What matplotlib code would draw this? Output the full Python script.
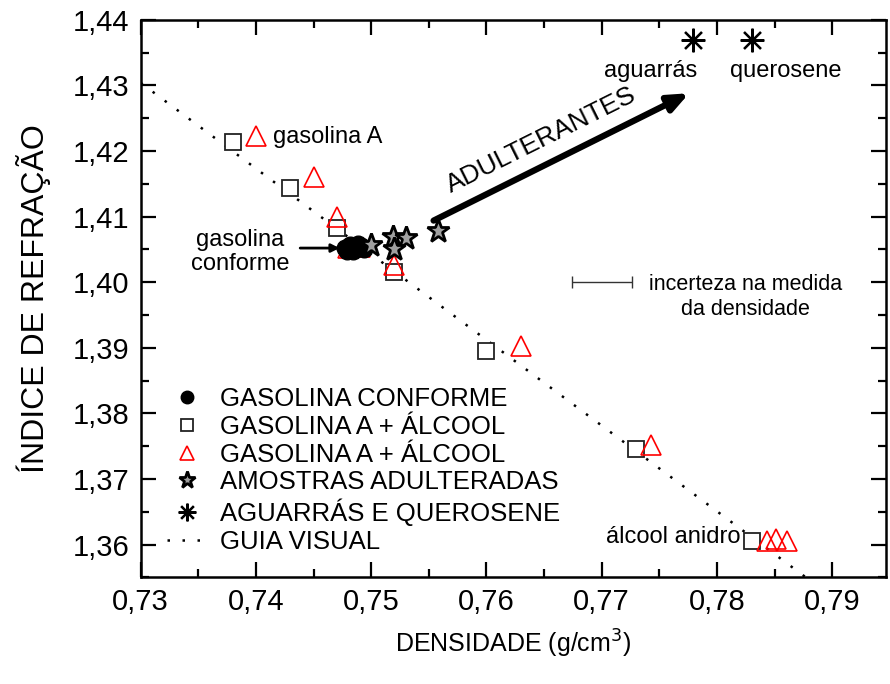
import matplotlib
matplotlib.use("Agg")
import matplotlib.pyplot as plt
from matplotlib.ticker import FuncFormatter, MultipleLocator

plt.rcParams["font.family"] = ["Liberation Sans", "DejaVu Sans"]

# gasolina conforme (blob of filled circles)
conf_x = [0.7477, 0.7482, 0.7487, 0.7491, 0.7484, 0.7479, 0.7489, 0.7494]
conf_y = [1.4052, 1.4056, 1.4050, 1.4055, 1.4047, 1.4048, 1.4058, 1.4051]
# gasolina A + alcool (squares)
sq_x = [0.738, 0.743, 0.747, 0.752, 0.760, 0.773, 0.783]
sq_y = [1.4213, 1.4144, 1.4083, 1.4016, 1.3895, 1.3745, 1.3606]
# gasolina A + alcool (red triangles)
tri_x = [0.740, 0.745, 0.747, 0.7480, 0.7490, 0.752, 0.763, 0.7743, 0.7843, 0.7851, 0.7861]
tri_y = [1.4223, 1.4161, 1.4100, 1.4052, 1.4053, 1.4026, 1.3903, 1.3751, 1.3606, 1.3608, 1.3606]
# amostras adulteradas (stars)
star_x = [0.7500, 0.7519, 0.7530, 0.7520, 0.7558]
star_y = [1.4057, 1.4069, 1.4068, 1.4051, 1.4078]
# aguarras e querosene
ast_x = [0.7779, 0.7830]
ast_y = [1.4370, 1.4370]
# guia visual
guide_x = [0.7300, 0.7877]
guide_y = [1.4304, 1.3550]

fig = plt.figure(figsize=(8.9, 6.84), dpi=100)
ax = fig.add_axes([0.158, 0.156, 0.838, 0.815])

ax.plot(guide_x, guide_y, color="black", ls=(0, (1, 5)), lw=1.8, label="GUIA VISUAL", zorder=1)
ax.plot(sq_x, sq_y, ls="none", marker="s", ms=11.5, mfc="white", mec="#222222", mew=1.3,
        label="GASOLINA A + ÁLCOOL", zorder=2)
ax.plot(tri_x, tri_y, ls="none", marker="^", ms=14, mfc="none", mec="red", mew=1.2,
        label="GASOLINA A + ÁLCOOL", zorder=3)
ax.plot(conf_x, conf_y, ls="none", marker="o", ms=12, color="black",
        label="GASOLINA CONFORME", zorder=4)
ax.plot(star_x, star_y, ls="none", marker="*", ms=17, mfc="#a0a0a0", mec="black", mew=2,
        label="AMOSTRAS ADULTERADAS", zorder=5)
ax.plot(ast_x, ast_y, ls="none", marker=(8, 2, 0), ms=17, color="black", mew=1.6,
        label="AGUARRÁS E QUEROSENE", zorder=5)

# uncertainty bar
ax.errorbar([0.7700], [1.4000], xerr=[0.0026], fmt="none", ecolor="#333333", elinewidth=1,
            capsize=4, capthick=1)

ax.set_xlim(0.73, 0.7947)
ax.set_ylim(1.355, 1.44)
ax.xaxis.set_major_locator(MultipleLocator(0.01))
ax.xaxis.set_minor_locator(MultipleLocator(0.005))
ax.yaxis.set_major_locator(MultipleLocator(0.01))
ax.yaxis.set_minor_locator(MultipleLocator(0.005))
ax.xaxis.set_major_formatter(FuncFormatter(lambda v, p: f"{v:.2f}".replace(".", ",")))
ax.yaxis.set_major_formatter(FuncFormatter(lambda v, p: f"{v:.2f}".replace(".", ",")))
ax.tick_params(which="both", direction="in", top=True, right=True, width=1.6, labelsize=21)
ax.tick_params(which="major", length=11, pad=8)
ax.tick_params(which="minor", length=6)
for s in ax.spines.values():
    s.set_linewidth(1.8)

ax.set_xlabel("DENSIDADE (g/cm$^3$)", fontsize=18, labelpad=8)
ax.set_ylabel("ÍNDICE DE REFRAÇÃO", fontsize=23, labelpad=16)

# annotations
ax.text(0.7415, 1.4221, "gasolina A", fontsize=17, va="center", ha="left")
ax.text(0.7386, 1.4046, "gasolina\nconforme", fontsize=17, va="center", ha="center", linespacing=1.15)
ax.annotate("", xy=(0.7475, 1.4052), xytext=(0.7436, 1.4052),
            arrowprops=dict(arrowstyle="-|>", color="black", lw=2, mutation_scale=12))
ax.text(0.7742, 1.4322, "aguarrás", fontsize=17, ha="center", va="center")
ax.text(0.7860, 1.4322, "querosene", fontsize=17, ha="center", va="center")
ax.text(0.7820, 1.3612, "álcool anidro", fontsize=17, ha="right", va="center")
ax.text(0.7825, 1.3977, "incerteza na medida\nda densidade", fontsize=15.5, ha="center", va="center",
        linespacing=1.25)
ax.annotate("", xy=(0.7778, 1.4290), xytext=(0.7552, 1.4092),
            arrowprops=dict(arrowstyle="-|>,head_length=0.6,head_width=0.25", color="black", lw=4.5,
                            mutation_scale=20))
ax.text(0.7648, 1.4216, "ADULTERANTES", fontsize=19, rotation=26.5, ha="center", va="center",
        rotation_mode="anchor")

handles, labels = ax.get_legend_handles_labels()
order = [3, 1, 2, 4, 5, 0]
ax.legend([handles[i] for i in order], [labels[i] for i in order], loc="upper left",
          bbox_to_anchor=(0.022, 0.36), frameon=False, fontsize=18.5, handlelength=1.5,
          handletextpad=0.55, labelspacing=0.15, markerscale=0.75, borderaxespad=0)

fig.savefig("out.png", dpi=100)
